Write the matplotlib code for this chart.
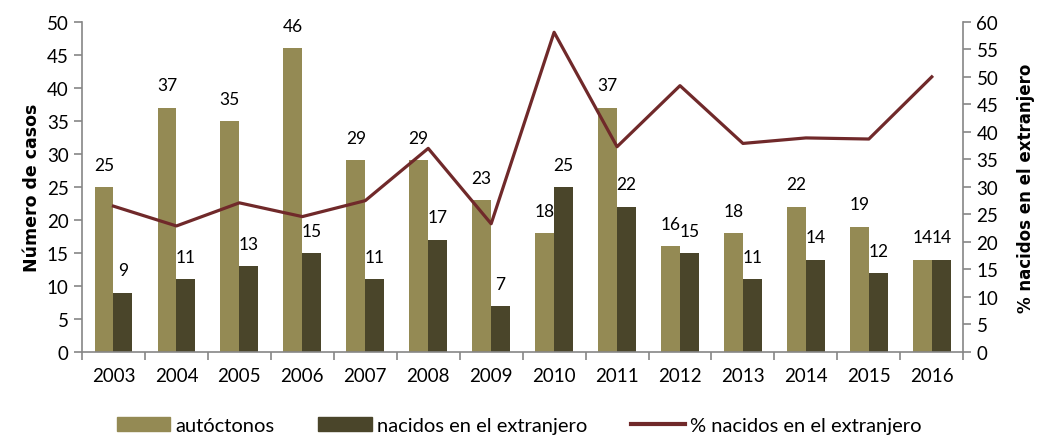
import numpy as np
import matplotlib
matplotlib.use("Agg")
import matplotlib.pyplot as plt
from matplotlib.lines import Line2D
from matplotlib.patches import Patch

plt.rcParams['font.family'] = ['Lato', 'DejaVu Sans']

# data
years = ['2003', '2004', '2005', '2006', '2007', '2008', '2009',
         '2010', '2011', '2012', '2013', '2014', '2015', '2016']
autoctonos = [25, 37, 35, 46, 29, 29, 23, 18, 37, 16, 18, 22, 19, 14]
extranjero = [9, 11, 13, 15, 11, 17, 7, 25, 22, 15, 11, 14, 12, 14]
pct_extranjero = [26.5, 22.9, 27.1, 24.6, 27.5, 37.0, 23.3,
                  58.1, 37.3, 48.4, 37.9, 38.9, 38.7, 50.0]

c_auto = '#948A54'
c_ext = '#4A452A'
c_line = '#70292A'
c_axis = '#868686'

fig = plt.figure(figsize=(10.38, 4.39), dpi=100)
ax = fig.add_axes([0.079, 0.196, 0.849, 0.752])
ax2 = ax.twinx()

x = np.arange(len(years))
w = 0.30
ax.bar(x - w / 2, autoctonos, w, color=c_auto, zorder=2)
ax.bar(x + w / 2, extranjero, w, color=c_ext, zorder=2)

for xi, v in zip(x, autoctonos):
    ax.annotate(str(v), (xi - w / 2, v), xytext=(0, 16), textcoords='offset points',
                ha='center', va='center', fontsize=12.5, color='#000000')
for xi, v in zip(x, extranjero):
    ax.annotate(str(v), (xi + w / 2, v), xytext=(0, 16), textcoords='offset points',
                ha='center', va='center', fontsize=12.5, color='#000000')

ax2.plot(x, pct_extranjero, color=c_line, lw=2.3, zorder=3)

ax.set_xlim(-0.5, len(years) - 0.5)
ax.set_ylim(0, 50)
ax.set_yticks(range(0, 51, 5))
ax2.set_ylim(0, 60)
ax2.set_yticks(range(0, 61, 5))

ax.set_xticks(x)
ax.set_xticklabels(years)
ax.set_xticks(np.arange(-0.5, len(years), 1), minor=True)
ax.tick_params(axis='x', which='major', length=0, pad=11, labelsize=13.5)
ax.tick_params(axis='x', which='minor', length=6, color=c_axis, width=1.2)
ax.tick_params(axis='y', length=6, color=c_axis, width=1.2, labelsize=13.5)
ax2.tick_params(axis='y', length=6, color=c_axis, width=1.2, labelsize=13.5)

for a in (ax, ax2):
    a.spines['top'].set_visible(False)
    for s in ('left', 'right', 'bottom'):
        a.spines[s].set_color(c_axis)
        a.spines[s].set_linewidth(1.2)
ax.spines['right'].set_visible(False)
ax2.spines['left'].set_visible(False)
ax2.spines['bottom'].set_visible(False)

ax.set_ylabel('Número de casos', fontsize=12.5, fontweight='bold', labelpad=4,
              family='DejaVu Sans')
ax2.set_ylabel('% nacidos en el extranjero', fontsize=12, fontweight='bold',
               labelpad=13, family='DejaVu Sans')

handles = [Patch(color=c_auto), Patch(color=c_ext),
           Line2D([0], [0], color=c_line, lw=3)]
labels = ['autóctonos', 'nacidos en el extranjero', '% nacidos en el extranjero']
fig.legend(handles, labels, loc='lower center', bbox_to_anchor=(0.5, -0.032), ncol=3,
           frameon=False, fontsize=14.5, handlelength=2.65, handleheight=0.65,
           columnspacing=2.2, handletextpad=0.25)

fig.savefig('out.png', dpi=100)
